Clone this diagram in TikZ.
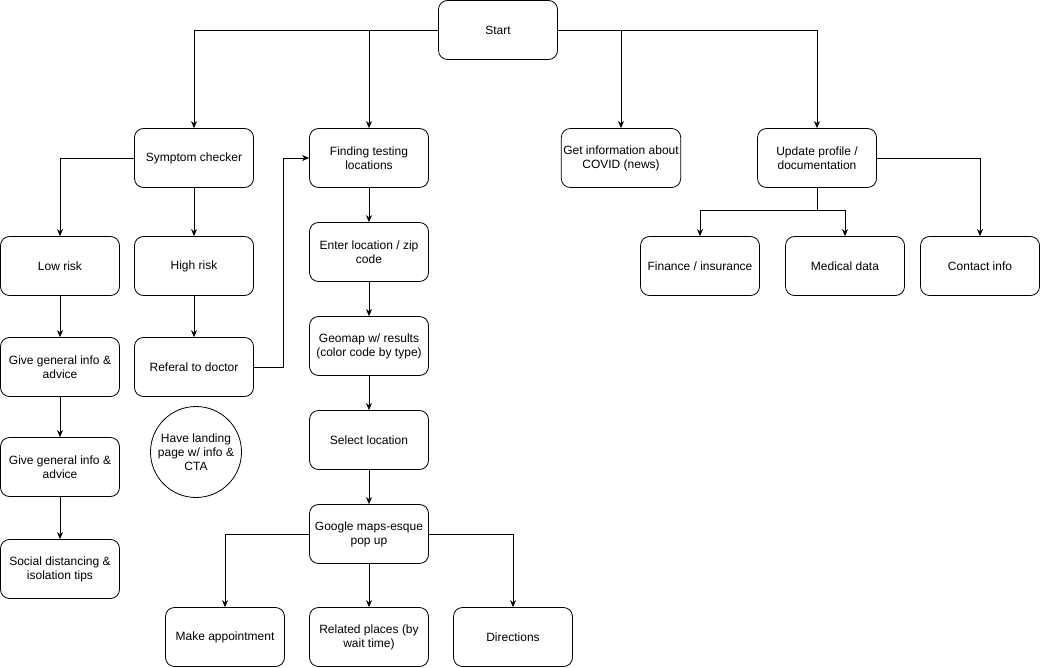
\documentclass[tikz,border=0pt]{standalone}
\usepackage{fontspec}
\setmainfont{Liberation Sans}
\usetikzlibrary{arrows.meta}

\begin{document}
\begin{tikzpicture}[x=1pt, y=-1pt, >={Stealth[length=7pt, width=6pt]}, line width=0.8pt,
  font=\fontsize{12}{14}\selectfont,
  box/.style={draw, rounded corners=9pt, minimum width=119pt, minimum height=59pt, align=center, inner sep=2pt},
  bubble/.style={draw, circle, minimum size=91pt, align=center, inner sep=0pt}]

\useasboundingbox (0,0) rectangle (1041,668);

% TOP
\node[box] (start) at (498,30) {Start};

% Main branches
\node[box] (symptom) at (194,158) {Symptom checker};
\node[box] (finding) at (369,158) {Finding testing\\locations};
\node[box] (news) at (621,158) {Get information about\\COVID (news)};
\node[box] (update) at (817,158) {Update profile /\\documentation};

\draw[->] (start.west) -| (symptom.north);
\draw[->] (start.west) -| (finding.north);
\draw[->] (start.east) -| (news.north);
\draw[->] (start.east) -| (update.north);

% SYMPTOM CHECKER
\node[box] (low) at (60,266) {Low risk};
\node[box] (high) at (194,266) {High risk};
\node[box] (advice1) at (60,367) {Give general info \&\\advice};
\node[box] (advice2) at (60,467) {Give general info \&\\advice};
\node[box] (social) at (60,569) {Social distancing \&\\isolation tips};
\node[box] (referal) at (194,367) {Referal to doctor};
\node[bubble] (landing) at (196,452) {Have landing\\page w/ info \&\\CTA};

\draw[->] (symptom.west) -| (low.north);
\draw[->] (symptom) -- (high);
\draw[->] (low) -- (advice1);
\draw[->] (advice1) -- (advice2);
\draw[->] (advice2) -- (social);
\draw[->] (high) -- (referal);
\draw[->] (referal.east) -- ++(29,0) |- (finding.west);

% TESTING LOCATIONS
\node[box] (zip) at (369,252) {Enter location / zip\\code};
\node[box] (geomap) at (369,346) {Geomap w/ results\\(color code by type)};
\node[box] (select) at (369,440) {Select location};
\node[box] (popup) at (369,534) {Google maps-esque\\pop up};

\draw[->] (finding) -- (zip);
\draw[->] (zip) -- (geomap);
\draw[->] (geomap) -- (select);
\draw[->] (select) -- (popup);

% Pop up options
\node[box] (appoint) at (225,637) {Make appointment};
\node[box] (related) at (369,637) {Related places (by\\wait time)};
\node[box] (directions) at (513,637) {Directions};

\draw[->] (popup.west) -| (appoint.north);
\draw[->] (popup) -- (related);
\draw[->] (popup.east) -| (directions.north);

% PROFILE
\node[box] (finance) at (700,266) {Finance / insurance};
\node[box] (medical) at (845,266) {Medical data};
\node[box] (contact) at (980,266) {Contact info};

\draw (update.south) -- ++(0,23) coordinate (split);
\draw[->] (split) -| (finance.north);
\draw[->] (split) -| (medical.north);
\draw[->] (update.east) -| (contact.north);

\end{tikzpicture}
\end{document}
